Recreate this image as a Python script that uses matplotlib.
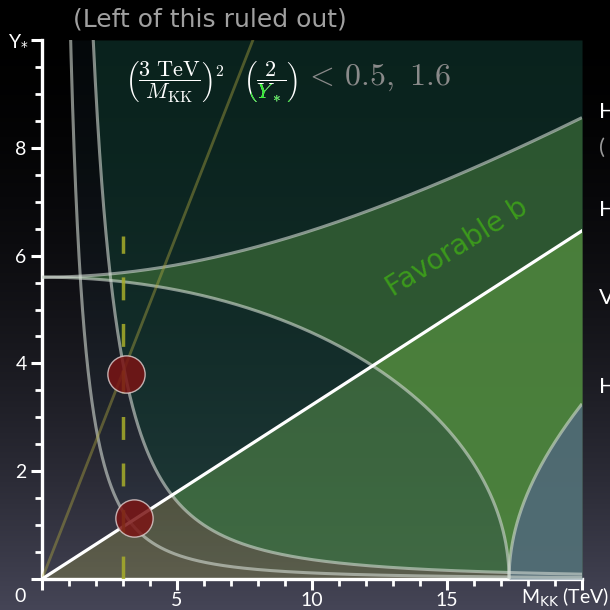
import numpy as np
import matplotlib
matplotlib.use("Agg")
import matplotlib.pyplot as plt
from matplotlib.transforms import Bbox

plt.rcParams['mathtext.fontset'] = 'cm'
plt.rcParams['font.family'] = ['Lato', 'DejaVu Sans']

# --- values ---
bound_levels = [0.5, 1.6]          # (3 TeV/M)^2 (2/Y) = level  ->  Y = 18/(level*M^2)
y_at_zero = 5.6                    # where the ellipse / hyperbola pair meet the Y axis
curv = 0.1048                      # M^2 coefficient of the ellipse / hyperbolas
white_slope = 0.323                # white line Y = s*M
olive_slope = 1.28                 # faint olive line
dash_m, dash_top = 3.0, 6.37       # dashed vertical line
circle_m = [3.11, 3.41]
circle_y = [3.80, 1.13]
x_ticks = [0, 5, 10, 15, 20]
x_labels = ['', '5', '10', '15', '']
y_ticks = [0, 2, 4, 6, 8, 10]
y_labels = ['', '2', '4', '6', '8', '']

W = 610
fig = plt.figure(figsize=(6.1, 6.1), dpi=100)

# background gradient
bg = fig.add_axes([0, 0, 1, 1], zorder=0)
t = np.linspace(0, 1, 400)[:, None]
v = 0.27 * t ** 1.9
grad = np.dstack([v, v, v * 1.25]) * np.ones((1, 2, 1))
bg.imshow(np.clip(grad, 0, 1), aspect='auto', extent=[0, 1, 0, 1], origin='upper')
bg.axis('off')

ax = fig.add_axes([42 / W, 31 / W, 540 / W, 539 / W], zorder=1)
ax.set_facecolor('none')
ax.set_xlim(0, 20)
ax.set_ylim(0, 10)

M = np.linspace(0.2, 20, 4000)
upper = np.sqrt(y_at_zero ** 2 + curv * M ** 2)
ell = np.sqrt(np.clip(y_at_zero ** 2 - curv * M ** 2, 0, None))
right = np.sqrt(np.clip(curv * M ** 2 - y_at_zero ** 2, 0, None))
lower = np.maximum(ell, right)
wl = white_slope * M
m0 = np.sqrt(y_at_zero ** 2 / curv)

# tints right of the two bounds
hyp = [18 / (c * M ** 2) for c in bound_levels]
ax.fill_between(M, np.minimum(hyp[1], 10), 10, color='#1e3c48', alpha=0.15, lw=0, zorder=1)
ax.fill_between(M, np.minimum(hyp[0], 10), 10, color='#0f3d30', alpha=0.5, lw=0, zorder=1)
# below white line
ax.fill_between(M, 0, wl, color='#a7a74d', alpha=0.3, lw=0, zorder=2)
# inside the ellipse, below the white line, right of the outer bound
top_in = np.minimum(wl, ell)
ax.fill_between(M, np.minimum(hyp[0], top_in), top_in, where=M < m0,
                color='#307e48', alpha=0.4, lw=0, zorder=2)
# favourable band
lo = np.maximum(lower, wl)
ax.fill_between(M, lo, upper, where=upper > lo, color='#335f34', alpha=0.85, lw=0, zorder=3)
hi = np.minimum(wl, upper)
ax.fill_between(M, lower, hi, where=hi > lower, color='#4c873d', alpha=0.85, lw=0, zorder=3)
# right region
ax.fill_between(M, 0, right, where=M >= m0, color='#527080', alpha=0.8, lw=0, zorder=3)

curve_kw = dict(color='#d4dcd4', alpha=0.6, lw=2.2, zorder=4, solid_capstyle='butt')
for h in hyp:
    ax.plot(M, h, **curve_kw)
ax.plot(np.r_[0, M], np.r_[y_at_zero, upper], **curve_kw)
Me = np.linspace(0, m0, 2000)
ax.plot(Me, np.sqrt(np.clip(y_at_zero ** 2 - curv * Me ** 2, 0, None)), **curve_kw)
Mr = np.linspace(m0, 20, 1000)
ax.plot(Mr, np.sqrt(np.clip(curv * Mr ** 2 - y_at_zero ** 2, 0, None)), **curve_kw)

ax.plot([0, 20], [0, 20 * white_slope], color='white', lw=2.3, zorder=5)
ax.plot([0, 10 / olive_slope], [0, 10], color='#b0a840', alpha=0.42, lw=2, zorder=4)
ax.plot([dash_m, dash_m], [0, dash_top], color='#a8ae2a', alpha=0.85, lw=2.5,
        dashes=(6.6, 6.8), zorder=5)
ax.scatter(circle_m, circle_y, s=720, color='#7a1414', alpha=0.85,
           edgecolors='#d8c8c8', linewidths=1, zorder=6)

# axes styling
for s in ['top', 'right']:
    ax.spines[s].set_visible(False)
for s in ['left', 'bottom']:
    ax.spines[s].set_color('white')
    ax.spines[s].set_linewidth(2.4)
ax.set_xticks(x_ticks)
ax.set_xticklabels(x_labels)
ax.set_yticks(y_ticks)
ax.set_yticklabels(y_labels)
ax.set_xticks(np.arange(0, 21, 1), minor=True)
ax.set_yticks(np.arange(0, 10.1, 0.5), minor=True)
ax.tick_params(which='major', length=8, width=2.2, color='white', labelcolor='white',
               labelsize=14, pad=3)
ax.tick_params(axis='x', which='major', pad=1)
ax.tick_params(which='minor', length=5, width=2, color='white')

fig.text(20 / W, 1 - 597 / W, '0', color='white', fontsize=14, ha='center', va='center')
fig.text(521 / W, 1 - 597 / W, r'M$_{\mathrm{KK}}$ (TeV)', color='white', fontsize=14,
         ha='left', va='center', math_fontfamily='dejavusans')
fig.text(8 / W, 1 - 40 / W, r'Y$_{*}$', color='white', fontsize=14,
         ha='left', va='center', math_fontfamily='dejavusans')

fig.text(210 / W, 1 - 19 / W, '(Left of this ruled out)', color='#a0a0a0',
         fontsize=18, ha='center', va='center', family='DejaVu Sans')

# formula
fig.text(125 / W, 1 - 82 / W, r'$\left(\dfrac{3\ \mathrm{TeV}}{M_{\mathrm{KK}}}\right)^2$',
         color='white', fontsize=16, ha='left', va='center')
frac2 = r'$\left(\dfrac{2}{Y_*}\right)$'
t2 = fig.text(243 / W, 1 - 82 / W, frac2, color='white', fontsize=16,
              ha='left', va='center')
fig.canvas.draw()
bb = t2.get_window_extent(fig.canvas.get_renderer())
# same text again in green, clipped to the denominator only
t2g = fig.text(243 / W, 1 - 82 / W, frac2, color='#30f030', fontsize=16,
               ha='left', va='center', zorder=5)
ymid = (bb.y0 + bb.y1) / 2
t2g.set_clip_box(Bbox([[bb.x0 + 8, bb.y0 + 2], [bb.x1 - 8, ymid - 2]]))
t2g.set_clip_on(True)
fig.text((bb.x1 + 6) / W, 1 - 77 / W, r'$<\,0.5,\ 1.6$', color='#8a8a8a', fontsize=23,
         ha='left', va='center')

fig.text(457 / W, 1 - 248 / W, 'Favorable b', color='#3c9a1c', fontsize=20,
         rotation=32, ha='center', va='center', rotation_mode='anchor',
         family='DejaVu Sans')

# clipped slide text at the right edge
for y, s, c in [(112, 'H', 'white'), (148, '(', '#999999'), (210, 'H', 'white'),
                (298, 'V', 'white'), (387, 'H', 'white')]:
    fig.text(599 / W, 1 - y / W, s, color=c, fontsize=16, ha='left', va='center')

fig.savefig('out.png', dpi=100)
